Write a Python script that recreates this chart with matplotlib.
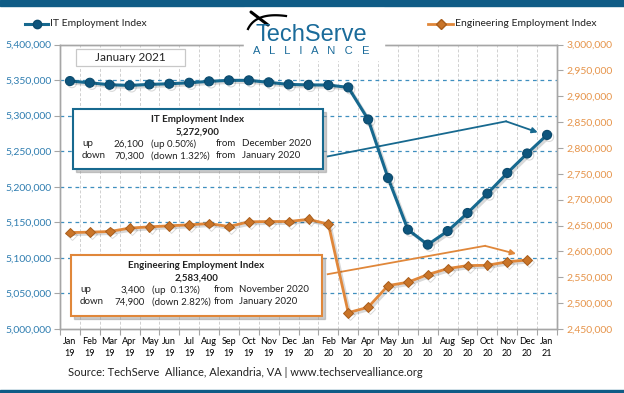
import numpy as np
import matplotlib.pyplot as plt
import matplotlib.patheffects as pe
from matplotlib.patches import Rectangle

plt.rcParams['font.family'] = ['Lato', 'DejaVu Sans']

# Data
months = ["Jan\n19", "Feb\n19", "Mar\n19", "Apr\n19", "May\n19", "Jun\n19", "Jul\n19",
          "Aug\n19", "Sep\n19", "Oct\n19", "Nov\n19", "Dec\n19", "Jan\n20", "Feb\n20",
          "Mar\n20", "Apr\n20", "May\n20", "Jun\n20", "Jul\n20", "Aug\n20", "Sep\n20",
          "Oct\n20", "Nov\n20", "Dec\n20", "Jan\n21"]
it_index = [5348600, 5346200, 5343400, 5342500, 5343900, 5344800, 5346200, 5348200,
            5349600, 5349600, 5346800, 5343900, 5343200, 5343000, 5339700, 5294600,
            5212400, 5139700, 5118600, 5137700, 5163100, 5190400, 5219400, 5246800,
            5272900]
eng_index = [2636500, 2637200, 2638500, 2645000, 2647500, 2649500, 2651400, 2653900,
             2648100, 2657200, 2657800, 2657800, 2662000, 2652700, 2481600, 2492000,
             2533900, 2540400, 2555200, 2566800, 2572600, 2573200, 2580000, 2583400]
left_ticks = np.arange(5000000, 5400001, 50000)
right_ticks = np.arange(2450000, 3000001, 50000)

IT_BLUE = "#17698f"
ENG_ORANGE = "#e0873a"
GRID_BLUE = "#3f8fbf"
SPINE = "#a6a6a6"

W, H = 624, 393
fig = plt.figure(figsize=(W / 100, H / 100), dpi=100)


def fx(px):
    return np.asarray(px) / W


def fy(py):
    return 1 - np.asarray(py) / H


ax = fig.add_axes([fx(60), fy(329), fx(557) - fx(60), fy(44.5) - fy(329)])
ax2 = ax.twinx()

x = np.arange(len(months))
shadow = [pe.SimpleLineShadow(offset=(1.5, -1.5), shadow_color="k", alpha=0.15), pe.Normal()]

ax.plot(x, it_index, color=IT_BLUE, lw=2.2, marker="o", ms=6.5,
        mfc="#0e557d", mec="#0b4a6c", mew=0.8, path_effects=shadow, zorder=5)
ax2.plot(x[:len(eng_index)], eng_index, color=ENG_ORANGE, lw=2.0, marker="D", ms=5,
         mfc="#c97428", mec="#a85d1c", mew=0.7, path_effects=shadow, zorder=5)

ax.set_xlim(-0.5, len(months) - 0.5)
ax.set_ylim(left_ticks[0], left_ticks[-1])
ax2.set_ylim(right_ticks[0], right_ticks[-1])

ax.set_yticks(left_ticks)
ax.set_yticklabels([f"{v:,}" for v in left_ticks])
ax2.set_yticks(right_ticks)
ax2.set_yticklabels([f"{v:,}" for v in right_ticks])

ax.set_xticks(np.arange(len(months) + 1) - 0.5)
ax.set_xticklabels([])
ax.set_xticks(x, minor=True)
ax.set_xticklabels(months, minor=True, fontsize=6.5, linespacing=1.35)
ax.tick_params(axis="x", which="major", length=4, color=SPINE)
ax.tick_params(axis="x", which="minor", length=0, pad=6)
ax.tick_params(axis="y", length=4, color=SPINE, labelsize=7.5, labelcolor="#2f7db0", pad=2)
ax2.tick_params(axis="y", length=4, color=SPINE, labelsize=7.5, labelcolor="#e6944a", pad=3)

for v in left_ticks[1:-1]:
    ax.axhline(v, color=GRID_BLUE, lw=0.9, ls=(0, (3, 3)), zorder=1)
for b in np.arange(1, len(months)) - 0.5:
    ax.axvline(b, color="#d0d0d0", lw=0.7, ls=(0, (3, 2)), zorder=0)

for a in (ax, ax2):
    for s in a.spines.values():
        s.set_color(SPINE)
        s.set_linewidth(1.0)

# top and bottom bands
fig.patches.append(Rectangle((0, fy(6)), 1, fy(0) - fy(6), transform=fig.transFigure,
                             color="#0f5c86", zorder=0))
fig.patches.append(Rectangle((0, 0), 1, fy(390), transform=fig.transFigure,
                             color="#0f5c86", zorder=0))

# legends
fig.add_artist(plt.Line2D([fx(25), fx(37), fx(48)], [fy(24)] * 3, color=IT_BLUE, lw=2.2,
                          marker="o", markevery=[1], ms=6, mfc="#0e557d", mec="#0b4a6c"))
fig.text(fx(50), fy(24), "IT Employment Index", fontsize=7.5, va="center", color="#222222")
fig.add_artist(plt.Line2D([fx(428), fx(441), fx(453)], [fy(24)] * 3, color=ENG_ORANGE, lw=2.0,
                          marker="D", markevery=[1], ms=5, mfc="#c97428", mec="#a85d1c"))
fig.text(fx(455), fy(24), "Engineering Employment Index", fontsize=7.5, va="center",
         color="#222222")

# logo
fig.patches.append(Rectangle((fx(244), fy(60)), fx(140), fy(8) - fy(60),
                             transform=fig.transFigure, color="white", zorder=3))
fig.text(fx(311), fy(35), "TechServe", fontsize=17, family="Liberation Sans", color="#1a6b9a",
         ha="center", va="center", zorder=4)
fig.text(fx(311), fy(51), "A   L   L   I   A   N   C   E", fontsize=8,
         family="Liberation Sans", color="#1a6b9a", ha="center", va="center", zorder=4)
t = np.linspace(0, 1, 40)
sx = (1 - t) ** 2 * 248 + 2 * (1 - t) * t * 256 + t ** 2 * 286
sy = (1 - t) ** 2 * 29 + 2 * (1 - t) * t * 12 + t ** 2 * 16
fig.add_artist(plt.Line2D(fx(sx), fy(sy), color="black", lw=1.6, zorder=4))
fig.add_artist(plt.Line2D(fx([251, 268]), fy([12, 25]), color="black", lw=2.2, zorder=4,
                          solid_capstyle="round"))

# "January 2021" box
fig.patches.append(Rectangle((fx(76), fy(66)), fx(109), fy(49) - fy(66), transform=fig.transFigure,
                             facecolor="white", edgecolor="#c8c8c8", lw=0.9, zorder=6))
fig.text(fx(130.5), fy(57.5), "January 2021", fontsize=8.5, ha="center", va="center", zorder=7,
         color="#222222")


def info_box(x0, x1, y0, y1, edge, title, value, rows, col_x, row_y):
    fig.patches.append(Rectangle((fx(x0 + 3), fy(y1 + 3)), fx(x1 - x0), fy(y0) - fy(y1),
                                 transform=fig.transFigure, color="#999999", alpha=0.5, zorder=6))
    fig.patches.append(Rectangle((fx(x0), fy(y1)), fx(x1 - x0), fy(y0) - fy(y1),
                                 transform=fig.transFigure, facecolor="white", edgecolor=edge,
                                 lw=1.5, zorder=7))
    cx = (x0 + x1) / 2
    fig.text(fx(cx), fy(y0 + 10), title, fontsize=7, weight="bold", ha="center", va="center",
             zorder=8, color="#222222")
    fig.text(fx(cx), fy(y0 + 23), value, fontsize=7, weight="bold", ha="center", va="center",
             zorder=8, color="#222222")
    for row, ry in zip(rows, row_y):
        for (txt, ha), cxp in zip(row, col_x):
            fig.text(fx(cxp), fy(ry), txt, fontsize=7, ha=ha, va="center", zorder=8,
                     color="#222222")


info_box(73, 323, 109, 169, IT_BLUE, "IT Employment Index", "5,272,900",
         [[("up", "left"), ("26,100", "right"), ("(up 0.50%)", "left"), ("from", "left"),
           ("December 2020", "left")],
          [("down", "left"), ("70,300", "right"), ("(down 1.32%)", "left"), ("from", "left"),
           ("January 2020", "left")]],
         [82, 144, 151, 216, 242], [144, 156])
info_box(71, 322, 255, 316, ENG_ORANGE, "Engineering Employment Index", "2,583,400",
         [[("up", "left"), ("3,400", "right"), ("(up  0.13%)", "left"), ("from", "left"),
           ("November 2020", "left")],
          [("down", "left"), ("74,900", "right"), ("(down 2.82%)", "left"), ("from", "left"),
           ("January 2020", "left")]],
         [80, 145, 152, 214, 239], [290, 302])

# callout arrows (axes fraction)
for pts, col in ([[(0.5386, 0.6067), (0.8974, 0.7299), (0.9612, 0.6912)], IT_BLUE],
                 [[(0.5386, 0.1926), (0.8551, 0.2923), (0.9175, 0.2641)], ENG_ORANGE]):
    ax.plot([pts[0][0], pts[1][0]], [pts[0][1], pts[1][1]], color=col, lw=1.3,
            transform=ax.transAxes, zorder=4)
    ax.annotate("", xy=pts[2], xytext=pts[1], xycoords="axes fraction",
                arrowprops=dict(arrowstyle="-|>", color=col, lw=1.3, mutation_scale=8,
                                shrinkA=0, shrinkB=0), zorder=4)

fig.text(fx(68), fy(372), "Source: TechServe  Alliance, Alexandria, VA | www.techservealliance.org",
         fontsize=8, va="center", color="#222222")

fig.savefig("out.png", dpi=100)
